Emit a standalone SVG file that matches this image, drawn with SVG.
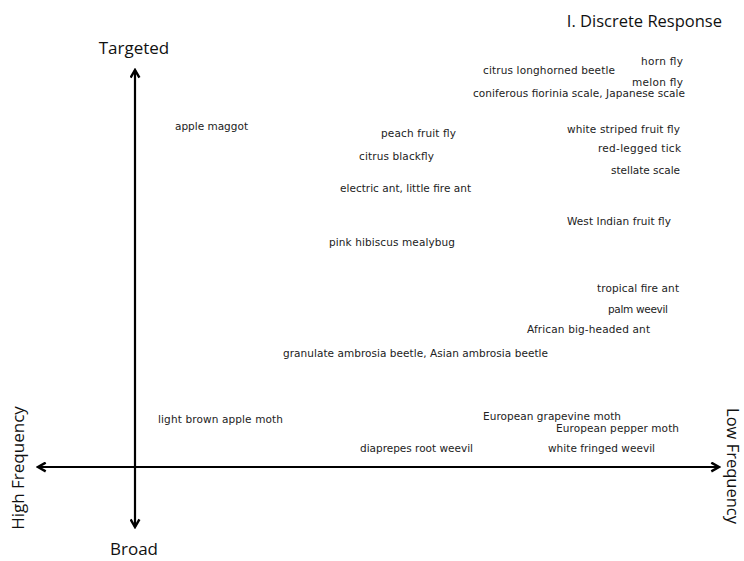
<svg xmlns="http://www.w3.org/2000/svg" width="744" height="561" viewBox="0 0 744 561">
<style>
.lbl{font-family:"DejaVu Sans",Verdana,sans-serif;font-size:10.5px;fill:#222}
.ax{font-family:"Open Sans","Liberation Sans",sans-serif;font-size:17px;fill:#111}
.axis{stroke:#000;stroke-width:2.2;fill:none}
</style>
<defs>
<marker id="arr" viewBox="0 0 10 10" refX="8" refY="5" markerWidth="5" markerHeight="5" orient="auto" markerUnits="strokeWidth">
<polyline points="1,1 8,5 1,9" fill="none" stroke="#000" stroke-width="2.2"/>
</marker>
</defs>
<rect width="744" height="561" fill="#fff"/>
<g id="connectors">
<line class="axis" x1="135" y1="467" x2="135" y2="70" marker-end="url(#arr)"/>
<line class="axis" x1="135" y1="467" x2="135" y2="527" marker-end="url(#arr)"/>
<line class="axis" x1="135" y1="467" x2="38" y2="467" marker-end="url(#arr)"/>
<line class="axis" x1="135" y1="467" x2="719" y2="467" marker-end="url(#arr)"/>
</g>
<g id="title"><text class="ax" x="722" y="27" style="font-size:16.5px" text-anchor="end">I. Discrete Response</text></g>
<g id="axis-targeted"><text class="ax" x="134" y="54" text-anchor="middle">Targeted</text></g>
<g id="axis-broad"><text class="ax" x="134" y="555" text-anchor="middle">Broad</text></g>
<g id="axis-high"><text class="ax" transform="translate(24,468) rotate(-90)" text-anchor="middle">High Frequency</text></g>
<g id="axis-low"><text class="ax" style="font-size:16.5px" transform="translate(727,466) rotate(90)" text-anchor="middle">Low Frequency</text></g>
<g id="n1"><text class="lbl" x="641" y="65" textLength="42">horn fly</text></g>
<g id="n2"><text class="lbl" x="483" y="74" textLength="132">citrus longhorned beetle</text></g>
<g id="n3"><text class="lbl" x="632" y="86" textLength="51">melon fly</text></g>
<g id="n4"><text class="lbl" x="473" y="97" textLength="212">coniferous fiorinia scale, Japanese scale</text></g>
<g id="n5"><text class="lbl" x="175" y="130" textLength="73">apple maggot</text></g>
<g id="n6"><text class="lbl" x="381" y="137" textLength="75">peach fruit fly</text></g>
<g id="n7"><text class="lbl" x="567" y="133" textLength="113">white striped fruit fly</text></g>
<g id="n8"><text class="lbl" x="598" y="152" textLength="83">red-legged tick</text></g>
<g id="n9"><text class="lbl" x="359" y="160" textLength="75">citrus blackfly</text></g>
<g id="n10"><text class="lbl" x="611" y="174" textLength="69">stellate scale</text></g>
<g id="n11"><text class="lbl" x="340" y="192" textLength="131">electric ant, little fire ant</text></g>
<g id="n12"><text class="lbl" x="567" y="225" textLength="104">West Indian fruit fly</text></g>
<g id="n13"><text class="lbl" x="329" y="246" textLength="126">pink hibiscus mealybug</text></g>
<g id="n14"><text class="lbl" x="597" y="292" textLength="82">tropical fire ant</text></g>
<g id="n15"><text class="lbl" x="608" y="313" textLength="60">palm weevil</text></g>
<g id="n16"><text class="lbl" x="527" y="333" textLength="123">African big-headed ant</text></g>
<g id="n17"><text class="lbl" x="283" y="357" textLength="265">granulate ambrosia beetle, Asian ambrosia beetle</text></g>
<g id="n18"><text class="lbl" x="158" y="423" textLength="125">light brown apple moth</text></g>
<g id="n19"><text class="lbl" x="483" y="420" textLength="138">European grapevine moth</text></g>
<g id="n20"><text class="lbl" x="556" y="432" textLength="123">European pepper moth</text></g>
<g id="n21"><text class="lbl" x="360" y="452" textLength="113">diaprepes root weevil</text></g>
<g id="n22"><text class="lbl" x="548" y="452" textLength="107">white fringed weevil</text></g>
</svg>
